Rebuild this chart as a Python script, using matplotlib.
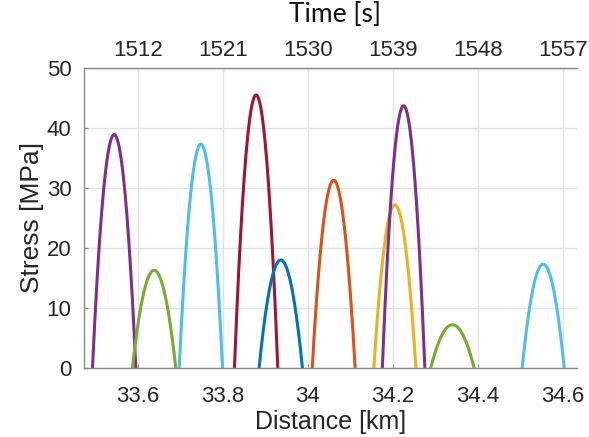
import numpy as np
import matplotlib.pyplot as plt

# stress pulses along the track: start / end distance [km] and peak stress [MPa]
pulse_start = [33.493, 33.587, 33.697, 33.827, 33.885, 34.010, 34.155, 34.175, 34.289, 34.504]
pulse_end = [33.595, 33.689, 33.799, 33.929, 33.987, 34.111, 34.254, 34.275, 34.391, 34.603]
pulse_peak = [38.9, 16.3, 37.3, 45.5, 18.0, 31.3, 27.2, 43.7, 7.2, 17.3]
pulse_color = ['#7E2F8E', '#77AC30', '#4DBEEE', '#A2142F', '#0072BD',
               '#D95319', '#EDB120', '#7E2F8E', '#77AC30', '#4DBEEE']

dist_ticks = [33.6, 33.8, 34.0, 34.2, 34.4, 34.6]
dist_ticklabels = ['33.6', '33.8', '34', '34.2', '34.4', '34.6']
time_ticks = [1512, 1521, 1530, 1539, 1548, 1557]
stress_ticks = [0, 10, 20, 30, 40, 50]

# time [s] <-> distance [km]
def d2t(d):
    return 1512 + 45.0 * (np.asarray(d) - 33.6)

def t2d(t):
    return 33.6 + (np.asarray(t) - 1512) / 45.0

plt.rcParams['font.family'] = ['Liberation Sans', 'DejaVu Sans']
fig = plt.figure(figsize=(5.89, 4.37), dpi=100)
ax = fig.add_axes([0.1426, 0.1579, 0.8370, 0.6865])

for a, b, h, c in zip(pulse_start, pulse_end, pulse_peak, pulse_color):
    x = np.linspace(a, b, 200)
    mid = 0.5 * (a + b)
    half = 0.5 * (b - a)
    ax.plot(x, h * (1 - ((x - mid) / half) ** 2), color=c, lw=2.2)

ax.set_xlim(33.473, 34.633)
ax.set_ylim(0, 50)
ax.set_xticks(dist_ticks)
ax.set_xticklabels(dist_ticklabels)
ax.set_yticks(stress_ticks)
ax.grid(True, color='#e3e3e3', lw=1.0)
ax.set_axisbelow(True)

for s in ['left', 'bottom', 'top']:
    ax.spines[s].set_color('#8a8a8a')
    ax.spines[s].set_linewidth(1.0)
ax.spines['right'].set_visible(False)
ax.tick_params(direction='in', length=3, color='#8a8a8a', labelsize=16,
               labelcolor='#262626')
ax.tick_params(axis='x', pad=13)
ax.tick_params(axis='y', pad=9)

ax.set_xlabel('Distance [km]', fontsize=18, color='#262626', labelpad=2)
ax.set_ylabel('Stress [MPa]', fontsize=19, color='#262626', labelpad=2)

sec = ax.secondary_xaxis('top', functions=(d2t, t2d))
sec.set_xticks(time_ticks)
sec.tick_params(direction='in', length=3, color='#8a8a8a', labelsize=16,
                labelcolor='#262626', pad=5)
sec.spines['top'].set_color('#8a8a8a')

fig.text(0.569, 0.966, 'Time [s]', fontsize=19, family=['Lato', 'DejaVu Sans'],
         ha='center', va='center', color='#111111')

fig.savefig('out.png', dpi=100)
